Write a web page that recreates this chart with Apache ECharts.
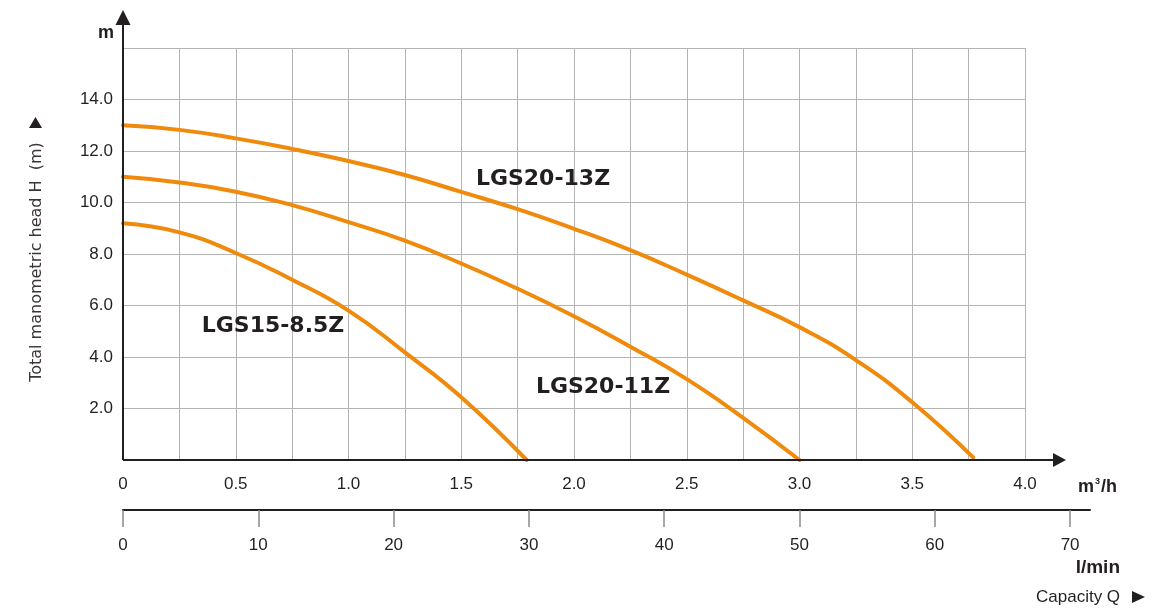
<!DOCTYPE html>
<html><head><meta charset="utf-8">
<script src="https://cdn.jsdelivr.net/npm/echarts@6/dist/echarts.min.js"></script>
<style>html,body{margin:0;padding:0;background:#fff}#c{width:1174px;height:608px}</style>
</head><body><div id="c"></div>
<script>
// ---- data ----
const seriesNames = ['LGS20-13Z', 'LGS20-11Z', 'LGS15-8.5Z'];
const flowLGS2013 = [0, 0.25, 0.5, 0.75, 1.0, 1.25, 1.5, 1.75, 2.0, 2.25, 2.5, 2.75, 3.0, 3.25, 3.5, 3.77];
const headLGS2013 = [13.0, 12.82, 12.49, 12.08, 11.61, 11.07, 10.41, 9.74, 8.98, 8.15, 7.2, 6.2, 5.16, 3.88, 2.24, 0.1];
const flowLGS2011 = [0, 0.25, 0.5, 0.75, 1.0, 1.25, 1.5, 1.75, 2.0, 2.25, 2.5, 2.75, 3.0];
const headLGS2011 = [11.0, 10.78, 10.42, 9.9, 9.24, 8.52, 7.63, 6.65, 5.58, 4.4, 3.14, 1.64, 0.0];
const flowLGS1585 = [0, 0.25, 0.5, 0.75, 1.0, 1.25, 1.5, 1.79];
const headLGS1585 = [9.19, 8.84, 8.04, 7.0, 5.8, 4.18, 2.44, 0.0];

const qTickValues = [0, 0.5, 1.0, 1.5, 2.0, 2.5, 3.0, 3.5, 4.0];
const qTickLabels = ['0', '0.5', '1.0', '1.5', '2.0', '2.5', '3.0', '3.5', '4.0'];
const hTickValues = [2, 4, 6, 8, 10, 12, 14];
const hTickLabels = ['2.0', '4.0', '6.0', '8.0', '10.0', '12.0', '14.0'];
const lpmTickValues = [0, 10, 20, 30, 40, 50, 60, 70];
const lpmTickLabels = ['0', '10', '20', '30', '40', '50', '60', '70'];

// ---- chart ----
const TXT = '#231f20';
const ORANGE = '#f08a0c';
const GL = 123, GT = 48, GW = 902, GH = 412;
const GR = GL + GW, GB = GT + GH;
const Q_MAX = 4, LPM_PER_M3H = 1000 / 60;
const LPM_W = 967;
const LPM_MAX = LPM_W / (GW / (Q_MAX * LPM_PER_M3H));

const zip = (a, b) => a.map((v, i) => [v, b[i]]);
const lookup = (vals, labs) => v => { const i = vals.findIndex(x => Math.abs(x - v) < 1e-6); return i < 0 ? '' : labs[i]; };

const chart = echarts.init(document.getElementById('c'), null, {renderer: 'canvas'});
const labelFont = {color: TXT, fontSize: 17, fontFamily: 'Liberation Sans'};

chart.setOption({
  animation: false,
  backgroundColor: '#fff',
  grid: [
    {left: GL, top: GT, width: GW, height: GH},
    {left: GL, top: GB + 49, width: LPM_W, height: 1}
  ],
  xAxis: [
    {gridIndex: 0, type: 'value', min: 0, max: Q_MAX, interval: 0.25,
     axisLine: {show: false}, axisTick: {show: false},
     splitLine: {show: true, lineStyle: {color: '#b4b4b4', width: 1}},
     axisLabel: Object.assign({margin: 16, customValues: qTickValues, formatter: lookup(qTickValues, qTickLabels)}, labelFont)},
    {gridIndex: 1, type: 'value', min: 0, max: LPM_MAX,
     axisLine: {show: true, lineStyle: {color: TXT, width: 2}},
     axisTick: {show: true, length: 17, customValues: lpmTickValues, lineStyle: {color: '#8a8a8a', width: 1.5}},
     splitLine: {show: false},
     axisLabel: Object.assign({margin: 27, customValues: lpmTickValues, formatter: lookup(lpmTickValues, lpmTickLabels)}, labelFont)}
  ],
  yAxis: [
    {gridIndex: 0, type: 'value', min: 0, max: 16, interval: 2,
     axisLine: {show: false}, axisTick: {show: false},
     splitLine: {show: true, lineStyle: {color: '#b4b4b4', width: 1}},
     axisLabel: Object.assign({margin: 10, customValues: hTickValues, formatter: lookup(hTickValues, hTickLabels)}, labelFont)},
    {gridIndex: 1, type: 'value', show: false}
  ],
  series: [
    {name: seriesNames[0], data: zip(flowLGS2013, headLGS2013)},
    {name: seriesNames[1], data: zip(flowLGS2011, headLGS2011)},
    {name: seriesNames[2], data: zip(flowLGS1585, headLGS1585)}
  ].map(s => Object.assign({type: 'line', xAxisIndex: 0, yAxisIndex: 0, smooth: true, showSymbol: false,
      lineStyle: {color: ORANGE, width: 4, cap: 'round'}, z: 3}, s)),
  graphic: [
    // x axis line + arrow
    {type: 'line', shape: {x1: GL, y1: GB, x2: GR + 30, y2: GB}, style: {stroke: TXT, lineWidth: 2}, z: 10},
    {type: 'polygon', shape: {points: [[GR + 28, GB - 7], [GR + 41, GB], [GR + 28, GB + 7]]}, style: {fill: TXT}, z: 10},
    // y axis line + arrow
    {type: 'line', shape: {x1: GL, y1: GB, x2: GL, y2: GT - 24}, style: {stroke: TXT, lineWidth: 2}, z: 10},
    {type: 'polygon', shape: {points: [[GL - 7.5, GT - 23], [GL, GT - 38], [GL + 7.5, GT - 23]]}, style: {fill: TXT}, z: 10},
    // unit labels
    {type: 'text', x: 106, y: 33, z: 20, style: {text: 'm', fill: TXT, font: 'bold 18px "Liberation Sans"', align: 'center', verticalAlign: 'middle'}},
    {type: 'text', x: 1078, y: 487, z: 20, style: {text: 'm{s|3}/h', fill: TXT, font: 'bold 18px "Liberation Sans"', align: 'left', verticalAlign: 'middle',
      rich: {s: {font: 'bold 9px "Liberation Sans"', fill: TXT, verticalAlign: 'top', padding: [0, 1, 10, 1]}}}},
    {type: 'text', x: 1120, y: 568, z: 20, style: {text: 'l/min', fill: TXT, font: 'bold 19px "Liberation Sans"', align: 'right', verticalAlign: 'middle'}},
    {type: 'text', x: 1036, y: 597, z: 20, style: {text: 'Capacity Q', fill: TXT, font: '17px "Liberation Sans"', align: 'left', verticalAlign: 'middle'}},
    {type: 'polygon', shape: {points: [[1132, 591], [1145, 597], [1132, 603]]}, style: {fill: TXT}},
    // y title
    {type: 'text', x: 37, y: 262, rotation: Math.PI / 2, z: 20,
     style: {text: 'Total manometric head H  (m)', fill: '#3a3536', font: '16px "DejaVu Sans"', align: 'center', verticalAlign: 'middle'}},
    {type: 'polygon', shape: {points: [[29, 128], [35.5, 117], [42, 128]]}, style: {fill: TXT}},
    // curve labels
    {type: 'text', x: 543, y: 179, z: 20, style: {text: seriesNames[0], fill: TXT, font: 'bold 22px "DejaVu Sans"', align: 'center', verticalAlign: 'middle'}},
    {type: 'text', x: 603, y: 387, z: 20, style: {text: seriesNames[1], fill: TXT, font: 'bold 22px "DejaVu Sans"', align: 'center', verticalAlign: 'middle'}},
    {type: 'text', x: 273, y: 326, z: 20, style: {text: seriesNames[2], fill: TXT, font: 'bold 22px "DejaVu Sans"', align: 'center', verticalAlign: 'middle'}}
  ]
});
</script>
</body></html>
